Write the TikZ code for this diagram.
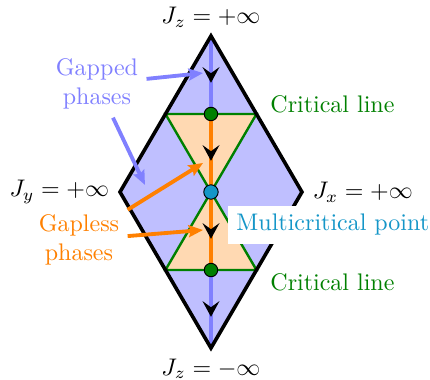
\documentclass[tikz,border=0pt]{standalone}
\usetikzlibrary{arrows.meta,decorations.markings,positioning}
\definecolor{mcpoint}{RGB}{20,150,200}
\definecolor{critgreen}{RGB}{0,128,0}
\tikzset{
  flowline/.style={line width=2pt, postaction={decorate},
    decoration={markings, mark=at position 0.6 with {\arrow[black]{Stealth[length=6.5pt,width=7pt,inset=2.5pt]}}}},
  critline/.style={critgreen, line width=1pt},
  dot/.style={circle, draw=black, thin, inner sep=0pt, minimum size=5.6pt},
  note/.style={line width=1.6pt, -{Stealth[length=6pt,width=5pt,inset=1pt]}},
}
\begin{document}
\begin{tikzpicture}
        \useasboundingbox (-3.091,-2.740) rectangle (3.209,2.813);
        \coordinate (top) at (0,2.286);
        \coordinate (bot) at (0,-2.286);
        \coordinate (lft) at (-1.333,0);
        \coordinate (rgt) at (1.333,0);
        \coordinate (pu) at (0,1.143);
        \coordinate (pc) at (0,0);
        \coordinate (pd) at (0,-1.143);
        % phase regions
        \fill[blue!25] (top) -- (rgt) -- (bot) -- (lft) -- cycle;
        \fill[orange!30] (-0.667,1.143) -- (0.667,1.143) -- (pc) -- cycle;
        \fill[orange!30] (-0.667,-1.143) -- (0.667,-1.143) -- (pc) -- cycle;
        % RG flow
        \draw[flowline, blue!50] (top) -- (pu);
        \draw[flowline, orange] (pu) -- (pc);
        \draw[flowline, orange] (pc) -- (pd);
        \draw[flowline, blue!50] (pd) -- (bot);
        % critical lines
        \draw[critline] (-0.667,1.143) -- (0.667,1.143) -- (-0.667,-1.143) -- (0.667,-1.143) -- cycle;
        \draw[line width=1.5pt] (top) -- (rgt) -- (bot) -- (lft) -- cycle;
        \node[dot, fill=critgreen] (upper) at (pu) {};
        \node[dot, fill=critgreen] (lower) at (pd) {};
        \node[dot, fill=mcpoint, minimum size=6pt] (multi) at (pc) {};
        % labels
        \node (jztop) [above=0pt of top] {$J_z=+\infty$};
        \node (jzbot) [below=1pt of bot] {$J_z=-\infty$};
        \node (jy) [left=1pt of lft] {$J_y=+\infty$};
        \node (jx) [right=1pt of rgt] {$J_x=+\infty$};
        \node[critgreen, anchor=west] (critup) at (0.747,1.289) {Critical line};
        \node[critgreen, anchor=west] (critdown) at (0.747,-1.33) {Critical line};
        \node[mcpoint, fill=white, anchor=west] (multitext) at (0.249,-0.483) {Multicritical point};
        \node[blue!50, align=center] (gapped) at (-1.670,1.582) {Gapped\\phases};
        \node[orange, align=center] (gapless) at (-1.934,-0.703) {Gapless\\phases};
        % pointers
        \coordinate (gapA) at (-0.117,1.743);
        \coordinate (gapB) at (-0.967,0.103);
        \coordinate (lessA) at (-0.117,0.425);
        \coordinate (lessB) at (-0.117,-0.557);
        \draw[note, blue!50] (gapped) -- (gapA);
        \draw[note, blue!50] (gapped) -- (gapB);
        \draw[note, orange] (gapless) -- (lessA);
        \draw[note, orange] (gapless) -- (lessB);
    \end{tikzpicture}
\end{document}
